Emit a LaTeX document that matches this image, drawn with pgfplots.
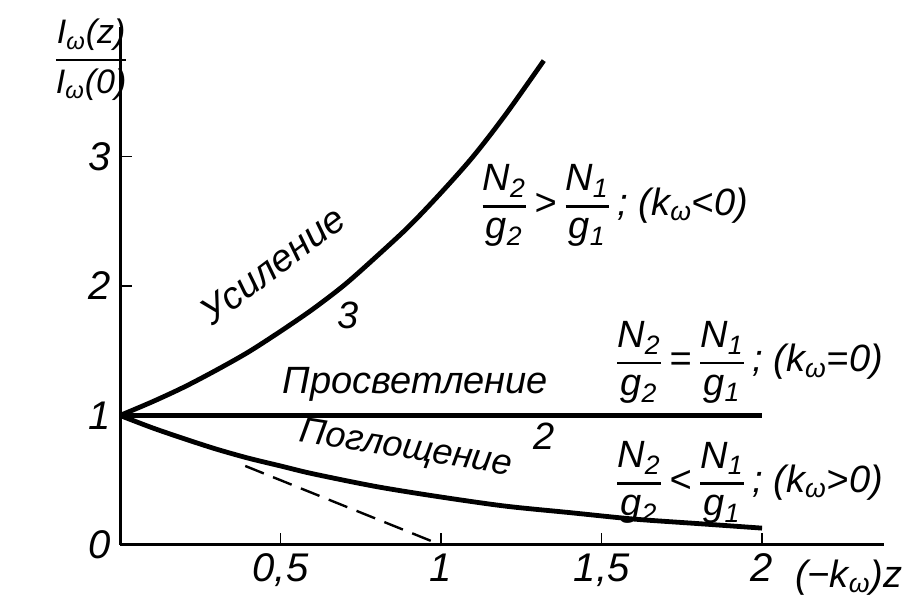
\documentclass[border=0pt]{standalone}
\usepackage{pgfplots}
\pgfplotsset{compat=1.18}
\usepackage{fontspec}
\setmainfont{Liberation Sans}

% stacked fraction set in the text font, with a heavier bar
\newcommand\fr[2]{\ensuremath{\displaystyle{\hbox{#1}\above1.3pt\hbox{#2}}}}
\newcommand\sub[1]{\textsubscript{#1}}

\begin{document}
\begin{tikzpicture}[font=\fontsize{19}{22}\selectfont\itshape]
\begin{axis}[
  x=160.5pt, y=64.75pt,
  xmin=0, xmax=2.38, ymin=0, ymax=4.0,
  axis lines=left,
  axis line style={-, line width=1.5pt},
  xtick={0.5,1,1.5,2}, xticklabels={{0,5},{1},{1,5},{2}},
  ytick={0,1,2,3}, yticklabels={0,1,2,3},
  tick style={line width=0.8pt, black},
  major tick length=6pt, tick align=inside,
  ticklabel style={font=\fontsize{20}{23}\selectfont\itshape},
  xticklabel style={yshift=-1pt},
  yticklabel style={xshift=-1pt},
  clip=false,
]
% 3: amplification
\addplot[line width=2.4pt, smooth] coordinates {
  (0,1) (0.1,1.105) (0.2,1.22) (0.3,1.35) (0.4,1.49) (0.5,1.65)
  (0.6,1.82) (0.7,2.01) (0.8,2.23) (0.9,2.46) (1.0,2.72) (1.1,3.0)
  (1.2,3.32) (1.32,3.74)};
% 2: bleaching
\addplot[line width=2.8pt] coordinates {(0,1) (2.0,1)};
% 1: absorption
\addplot[line width=2.4pt, smooth] coordinates {
  (0,1) (0.1,0.905) (0.2,0.82) (0.3,0.74) (0.4,0.67) (0.5,0.61)
  (0.6,0.55) (0.8,0.45) (1.0,0.37) (1.2,0.30) (1.4,0.25) (1.6,0.20)
  (1.8,0.165) (2.0,0.13)};
% initial tangent of the absorption curve
\addplot[line width=1.2pt, dash pattern=on 10pt off 5pt] coordinates {(0.39,0.61) (1.0,0)};

\node[rotate=37] at (axis cs:0.475,2.16) {Усиление};
\node at (axis cs:0.71,1.77) {3};
\node at (axis cs:0.92,1.24) {Просветление};
\node at (axis cs:1.32,0.84) {2};
\node[rotate=-9, font=\fontsize{18}{21}\selectfont\itshape] at (axis cs:0.89,0.735) {Поглощение};

\node[anchor=west] at (axis cs:1.10,2.62)
  {\fr{N\sub{2}}{g\sub{2}}\,>\,\fr{N\sub{1}}{g\sub{1}}\,; (k\sub{ω}<0)};
\node[anchor=west] at (axis cs:1.52,1.41)
  {\fr{N\sub{2}}{g\sub{2}}\,=\,\fr{N\sub{1}}{g\sub{1}}\,; (k\sub{ω}=0)};
\node[anchor=west] at (axis cs:1.52,0.48)
  {\fr{N\sub{2}}{g\sub{2}}\,<\,\fr{N\sub{1}}{g\sub{1}}\,; (k\sub{ω}>0)};

\node at (axis cs:-0.09,3.745) {\fontsize{17}{20}\selectfont\fr{I\sub{ω}(z)}{I\sub{ω}(0)}};
\node at (axis cs:2.27,-0.25) {(−k\sub{ω})z};

\coordinate (bl) at (axis cs:-0.374,-0.425);
\coordinate (tr) at (axis cs:2.492,4.208);
\end{axis}
\pgfresetboundingbox
\path (bl) rectangle (tr);
\end{tikzpicture}
\end{document}
